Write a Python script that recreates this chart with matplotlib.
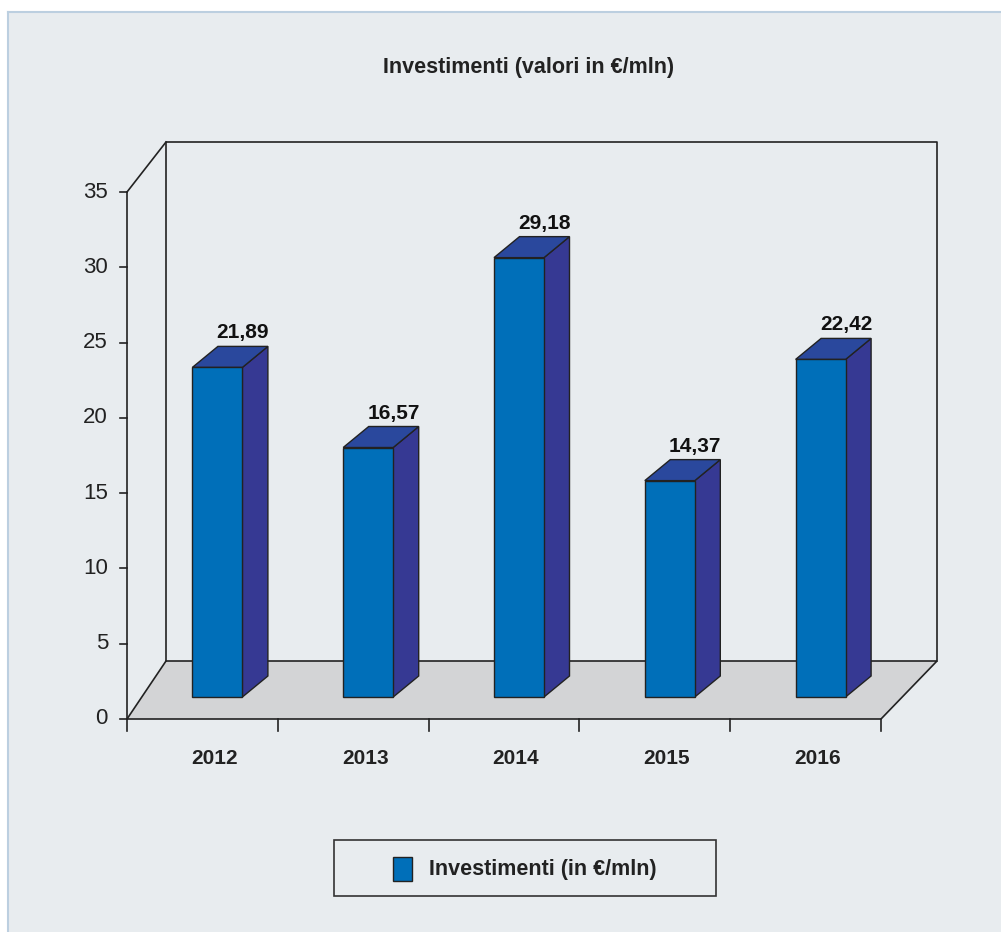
import matplotlib
matplotlib.use("Agg")
import matplotlib.pyplot as plt
from matplotlib.patches import Polygon, Rectangle

plt.rcParams['font.family'] = ['Liberation Sans', 'DejaVu Sans']

# data
years = ['2012', '2013', '2014', '2015', '2016']
values = [21.89, 16.57, 29.18, 14.37, 22.42]
labels = ['21,89', '16,57', '29,18', '14,37', '22,42']
yticks = [0, 5, 10, 15, 20, 25, 30, 35]
title = 'Investimenti (valori in €/mln)'
legend_label = 'Investimenti (in €/mln)'

W, H = 1001, 932
KX = 754 / 5      # px per category (front plane)
KY = 527 / 35     # px per unit (front plane)
X0, Y0 = 127, 719  # pixel position of the front origin

bg = '#e8ecef'
floor_c = '#d3d4d6'
front_c = '#006fb9'
top_c = '#2a489d'
side_c = '#363993'
edge = '#222222'

fig = plt.figure(figsize=(W / 100, H / 100), dpi=100)
fig.patch.set_facecolor('white')
ax = fig.add_axes([0, 0, 1, 1])
ax.set_xlim(-X0 / KX, (W - X0) / KX)
ax.set_ylim((Y0 - H) / KY, Y0 / KY)
ax.axis('off')

def px(dx):
    return dx / KX

def py(dy):
    return dy / KY

# panel background with light border on top and left
fig.patches.append(Rectangle((8 / W, 0), 1, 1 - 12 / H, transform=fig.transFigure,
                             facecolor=bg, edgecolor='none', zorder=-10))
fig.lines.append(plt.Line2D([8 / W, 8 / W], [0, 1 - 12 / H], transform=fig.transFigure,
                            color='#bccfe0', lw=1.5, zorder=-9))
fig.lines.append(plt.Line2D([8 / W, 1], [1 - 12 / H, 1 - 12 / H], transform=fig.transFigure,
                            color='#bccfe0', lw=1.5, zorder=-9))

ymax = yticks[-1]
n = len(years)
# back wall geometry (slight perspective)
bl_x, br_x = px(39), n + px(56)
bb_y = py(58)
bt_y = bb_y + ymax * (519 / 527)

# floor
ax.add_patch(Polygon([(0, 0), (n, 0), (br_x, bb_y), (bl_x, bb_y)], closed=True,
                     facecolor=floor_c, edgecolor=edge, lw=1.2, zorder=1))
# walls
ax.plot([bl_x, bl_x, br_x, br_x], [bb_y, bt_y, bt_y, bb_y], color=edge, lw=1.2, zorder=1)
ax.plot([0, bl_x], [ymax, bt_y], color=edge, lw=1.2, zorder=1)
ax.plot([0, 0], [0, ymax], color=edge, lw=1.2, zorder=2)

# y ticks
for t in yticks:
    ax.plot([-px(7), 0], [t, t], color=edge, lw=1.2, zorder=2)
    ax.text(-px(19), t, str(t), ha='right', va='center', fontsize=16, color='#222222')

# x ticks
for i in range(n + 1):
    ax.plot([i, i], [0, -py(12)], color=edge, lw=1.2, zorder=2)
for i, yr in enumerate(years):
    ax.text(i + 0.5 + px(12), -py(40), yr, ha='center', va='center', fontsize=15,
            fontweight='bold', color='#222222')

# bars
bw = px(50)
shift_x, base = px(15), py(22)
ddx, ddy = px(25.5), py(21)
for i, v in enumerate(values):
    xl = i + 0.5 + shift_x - bw / 2
    xr = xl + bw
    top = base + v
    ax.add_patch(Polygon([(xr, base), (xr + ddx, base + ddy), (xr + ddx, top + ddy), (xr, top)],
                         closed=True, facecolor=side_c, edgecolor=edge, lw=1, zorder=3))
    ax.add_patch(Polygon([(xl, top), (xr, top), (xr + ddx, top + ddy), (xl + ddx, top + ddy)],
                         closed=True, facecolor=top_c, edgecolor=edge, lw=1, zorder=3))
    ax.add_patch(Rectangle((xl, base), bw, v, facecolor=front_c, edgecolor=edge, lw=1, zorder=4))
    ax.text(xl + ddx + bw / 2, top + ddy + py(4), labels[i], ha='center', va='bottom',
            fontsize=15, fontweight='bold', color='#111111')

# title
fig.text(529 / W, 1 - 67 / H, title, ha='center', va='center', fontsize=15.5,
         fontweight='bold', color='#222222')

# legend
fig.patches.append(Rectangle((334 / W, 1 - 896 / H), 382 / W, 56 / H, transform=fig.transFigure,
                             facecolor=bg, edgecolor='#333333', lw=1.2))
fig.patches.append(Rectangle((393 / W, 1 - 881 / H), 19 / W, 24 / H, transform=fig.transFigure,
                             facecolor=front_c, edgecolor=edge, lw=1))
fig.text(429 / W, 1 - 869 / H, legend_label, ha='left', va='center', fontsize=15.5,
         fontweight='bold', color='#222222')

fig.savefig('out.png', dpi=100, facecolor=fig.get_facecolor())
